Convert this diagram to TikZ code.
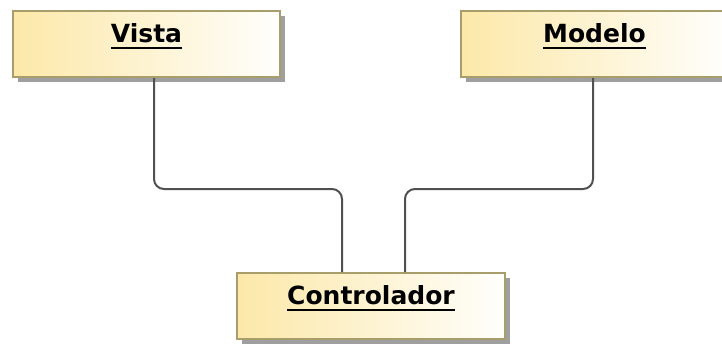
\documentclass[tikz,border=0pt]{standalone}
\usepackage{fontspec}
\setmainfont{DejaVu Sans}
\usetikzlibrary{shadows}
\definecolor{classfill}{RGB}{252,232,168}
\definecolor{classedge}{RGB}{168,158,108}
\definecolor{wiregray}{RGB}{80,80,80}
\newcommand{\classname}[1]{\setbox0\hbox{#1}\rlap{\copy0}\rule[-7pt]{\wd0}{2pt}}
\tikzset{
	class/.style={rectangle,draw=classedge,line width=2pt,left color=classfill,right color=white!97!classfill,
		minimum width=267pt,inner sep=0pt,text height=31pt,text depth=35pt,
		font=\bfseries\fontsize{25}{30}\selectfont,
		drop shadow={shadow xshift=5pt,shadow yshift=-5pt,fill=gray!75,opacity=1}},
	wire/.style={draw=wiregray,line width=2pt,rounded corners=10pt}
}

\begin{document}
\begin{tikzpicture}[x=1pt,y=-1pt]
	\useasboundingbox (0,0) rectangle (722,343);
	\clip (0,0) rectangle (722,343);
	\node[class,anchor=north] (vista) at (146.5,10) {\classname{Vista}};
	\node[class,anchor=north] (modelo) at (594.5,10) {\classname{Modelo}};
	\node[class,anchor=north,minimum width=268pt] (ctrl) at (371,272) {\classname{Controlador}};
	\coordinate (lv) at (154,189);
	\coordinate (lm) at (593,189);
	\draw[wire] (vista.south -| lv) -- (lv) -| ([xshift=-29pt]ctrl.north);
	\draw[wire] ([xshift=34pt]ctrl.north) |- (lm) -- (modelo.south -| lm);
\end{tikzpicture}
\end{document}
